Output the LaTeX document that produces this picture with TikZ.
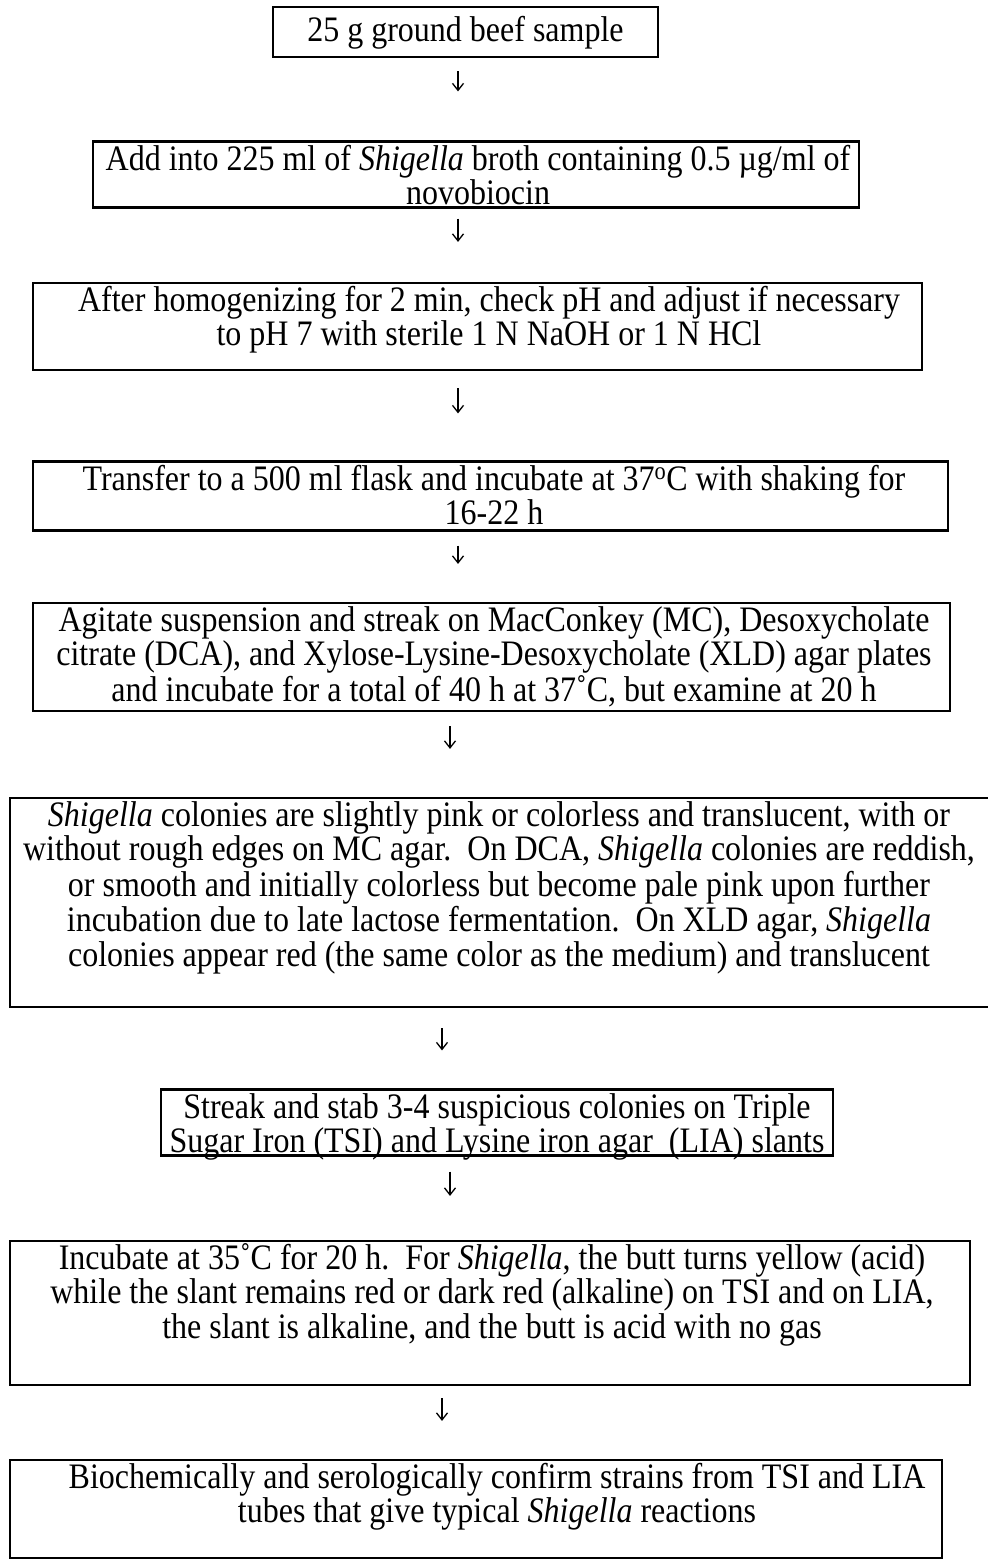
\documentclass[tikz,border=0pt]{standalone}
\usepackage{fontspec}
\usepackage{graphicx}
\setmainfont{Liberation Serif}
\usetikzlibrary{arrows.meta}
\newcommand\vtxt[1]{\scalebox{1}[1.12]{\begin{tabular}[t]{@{}c@{}}#1\end{tabular}}}
\begin{document}
\begin{tikzpicture}[x=1pt,y=-1pt,
  box/.style={draw, line width=2.2pt, inner sep=0pt},
  txt/.style={inner sep=0pt, anchor=base, font=\fontsize{32}{29.9}\selectfont},
  conn/.style={line width=1.3pt, -{Straight Barb[length=7pt,width=11pt,line width=1.3pt]}}]
\useasboundingbox (0,0) rectangle (988,1561);
\fill[white] (0,0) rectangle (988,1561);
\clip (0,0) rectangle (988,1561);
% boxes
\node[box, minimum width=385pt, minimum height=50pt]  (b1) at (465.5,32) {};
\node[box, minimum width=766pt, minimum height=66pt]  (b2) at (476,174.5) {};
\node[box, minimum width=889pt, minimum height=87pt]  (b3) at (477.5,326.5) {};
\node[box, minimum width=915pt, minimum height=69pt]  (b4) at (490.5,496) {};
\node[box, minimum width=917pt, minimum height=108pt] (b5) at (491.5,657) {};
\node[box, minimum width=986pt, minimum height=209pt] (b6) at (503,902.5) {};
\node[box, minimum width=672pt, minimum height=66pt]  (b7) at (497,1122.5) {};
\node[box, minimum width=960pt, minimum height=144pt] (b8) at (490,1313) {};
\node[box, minimum width=932pt, minimum height=98pt]  (b9) at (476,1509) {};
% texts
\node[txt] (t1) at (465.5,41) {\vtxt{25 g ground beef sample}};
\node[txt] (t2) at (478,170) {\vtxt{Add into 225 ml of \textit{Shigella} broth containing 0.5 µg/ml of\\novobiocin}};
\node[txt] (t3) at (489,311) {\vtxt{After homogenizing for 2 min, check pH and adjust if necessary\\to pH 7 with sterile 1 N NaOH or 1 N HCl}};
\node[txt] (t4) at (494,490) {\vtxt{Transfer to a 500 ml flask and incubate at 37\textsuperscript{o}C with shaking for\\16-22 h}};
\node[txt] (t5) at (494,631) {\vtxt{Agitate suspension and streak on MacConkey (MC), Desoxycholate\\citrate (DCA), and Xylose-Lysine-Desoxycholate (XLD) agar plates\\and incubate for a total of 40 h at 37˚C, but examine at 20 h}};
\node[txt] (t6) at (499,826) {\vtxt{\textit{Shigella} colonies are slightly pink or colorless and translucent, with or\\without rough edges on MC agar.\ \ On DCA, \textit{Shigella} colonies are reddish,\\or smooth and initially colorless but become pale pink upon further\\incubation due to late lactose fermentation.\ \ On XLD agar, \textit{Shigella}\\colonies appear red (the same color as the medium) and translucent}};
\node[txt] (t7) at (497,1118) {\vtxt{Streak and stab 3-4 suspicious colonies on Triple\\Sugar Iron (TSI) and Lysine iron agar\ \ (LIA) slants}};
\node[txt] (t8) at (492,1269) {\vtxt{Incubate at 35˚C for 20 h.\ \ For \textit{Shigella}, the butt turns yellow (acid)\\while the slant remains red or dark red (alkaline) on TSI and on LIA,\\the slant is alkaline, and the butt is acid with no gas}};
\node[txt] (t9) at (497,1488) {\vtxt{Biochemically and serologically confirm strains from TSI and LIA\\tubes that give typical \textit{Shigella} reactions}};
% arrow columns
\coordinate (xa) at (458,0);
\coordinate (xb) at (450,0);
\coordinate (xc) at (442,0);
% connectors
\draw[conn, shorten <=13pt, shorten >=49pt] (b1.south -| xa) -- (b2.north -| xa);
\draw[conn, shorten <=10pt, shorten >=40pt] (b2.south -| xa) -- (b3.north -| xa);
\draw[conn, shorten <=17pt, shorten >=47pt] (b3.south -| xa) -- (b4.north -| xa);
\draw[conn, shorten <=14pt, shorten >=38pt] (b4.south -| xa) -- (b5.north -| xa);
\draw[conn, shorten <=14pt, shorten >=48pt] (b5.south -| xb) -- (b6.north -| xb);
\draw[conn, shorten <=20pt, shorten >=38pt] (b6.south -| xc) -- (b7.north -| xc);
\draw[conn, shorten <=15pt, shorten >=44pt] (b7.south -| xb) -- (b8.north -| xb);
\draw[conn, shorten <=12pt, shorten >=38pt] (b8.south -| xc) -- (b9.north -| xc);
\end{tikzpicture}
\end{document}
